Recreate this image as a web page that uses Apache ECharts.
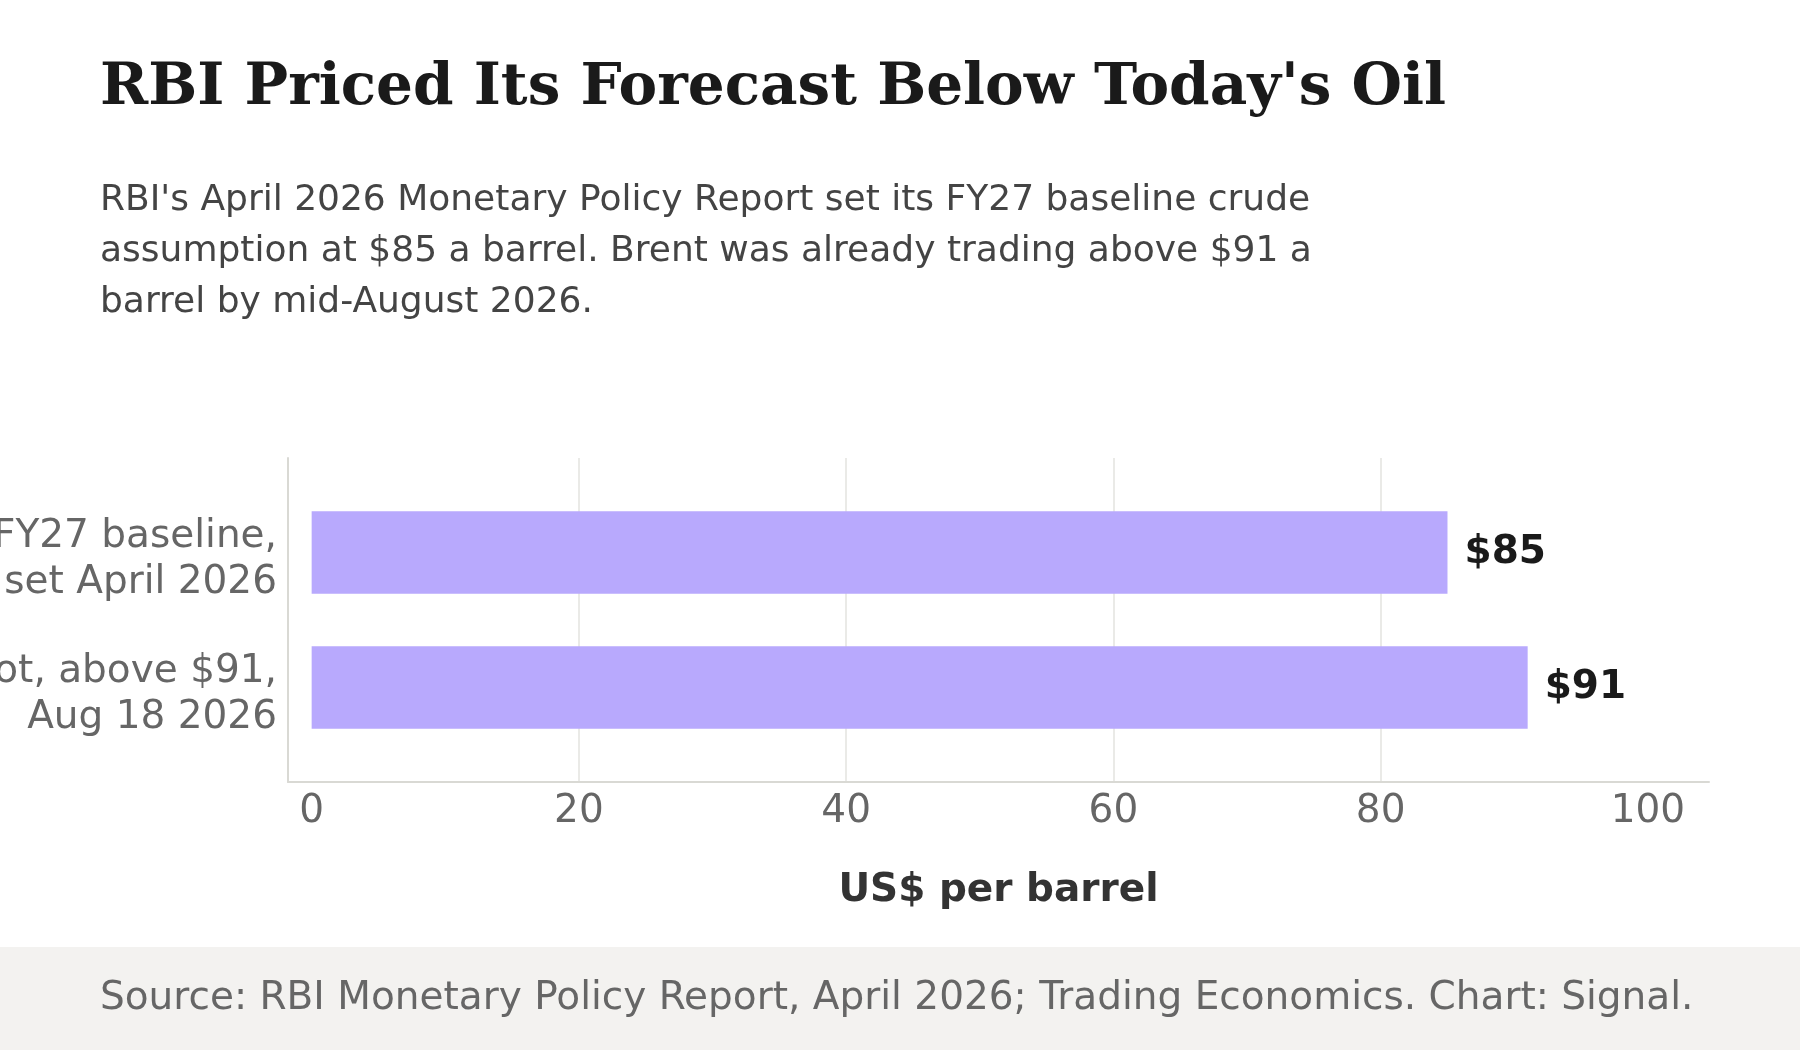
<!DOCTYPE html>
<html><head><meta charset="utf-8">
<script src="https://cdn.jsdelivr.net/npm/echarts@6/dist/echarts.min.js"></script>
<style>html,body{margin:0;padding:0;background:#fff}#chart{width:1800px;height:1050px}</style>
</head><body><div id="chart"></div>
<script>
const titleText = "RBI Priced Its Forecast Below Today's Oil";
const subtitleText = "RBI's April 2026 Monetary Policy Report set its FY27 baseline crude\nassumption at $85 a barrel. Brent was already trading above $91 a\nbarrel by mid-August 2026.";
const sourceText = "Source: RBI Monetary Policy Report, April 2026; Trading Economics. Chart: Signal.";
const categories = ["RBI FY27 baseline,\nset April 2026", "Brent spot, above $91,\nAug 18 2026"];
const values = [85, 91];
const valueLabels = ["$85", "$91"];
const xTicks = [0, 20, 40, 60, 80, 100];
const xAxisName = "US$ per barrel";

const SANS = '"DejaVu Sans", sans-serif';
const SERIF = '"DejaVu Serif", serif';
const BAR_COLOR = '#b8a9fd';
const BAR_HALF = 0.306;
const LABEL_SHIFT = 0.055; // small downward nudge of category label blocks

const chart = echarts.init(document.getElementById('chart'), null, {renderer: 'canvas'});
chart.setOption({
  backgroundColor: '#ffffff',
  animation: false,
  title: [
    {text: titleText, left: 100, top: 55.5, padding: 0,
     textStyle: {fontFamily: SERIF, fontWeight: 'bold', fontSize: 58, color: '#1a1a1a', lineHeight: 66}},
    {text: subtitleText, left: 100, top: 175, padding: 0,
     textStyle: {fontFamily: SANS, fontWeight: 'normal', fontSize: 36, color: '#444444', lineHeight: 51}},
    {text: sourceText, left: 100, top: 973.5, padding: 0,
     textStyle: {fontFamily: SANS, fontWeight: 'normal', fontSize: 39, color: '#666666', lineHeight: 50}}
  ],
  graphic: [
    {type: 'rect', left: 0, top: 947, z: -10, shape: {width: 1800, height: 103}, style: {fill: '#f3f2f0'}, silent: true}
  ],
  grid: {left: 288, right: 91, top: 458, bottom: 268, containLabel: false, outerBoundsMode: 'none'},
  xAxis: {
    type: 'value', min: -1.77, max: 104.57,
    name: xAxisName, nameLocation: 'middle', nameGap: 89.5,
    nameTextStyle: {fontFamily: SANS, fontSize: 39, fontWeight: 'bold', color: '#333333', lineHeight: 39},
    axisLine: {show: true, onZero: false, lineStyle: {color: '#d9d9d4', width: 2}},
    axisTick: {show: false, customValues: xTicks},
    axisLabel: {customValues: xTicks, fontFamily: SANS, fontSize: 39, color: '#666666', margin: 10.5, lineHeight: 39},
    splitLine: {show: true, showMinLine: false, showMaxLine: false, lineStyle: {color: '#e3e3df', width: 1.5}}
  },
  yAxis: {
    type: 'value', inverse: true, min: -0.7, max: 1.7,
    axisLine: {show: true, onZero: false, lineStyle: {color: '#d9d9d4', width: 2}},
    axisTick: {show: false},
    splitLine: {show: false},
    axisLabel: {customValues: categories.map((c, i) => i + LABEL_SHIFT), formatter: v => categories[Math.round(v)],
      fontFamily: SANS, fontSize: 39, lineHeight: 46, color: '#666666', margin: 11, align: 'right'}
  },
  series: [{
    type: 'custom',
    data: values.map((v, i) => [v, i]),
    encode: {x: 0, y: 1},
    renderItem: function (params, api) {
      const v = api.value(0), i = api.value(1);
      const a = api.coord([0, i - BAR_HALF]);
      const b = api.coord([v, i + BAR_HALF]);
      const mid = api.coord([v, i]);
      return {type: 'group', children: [
        {type: 'rect', shape: {x: a[0], y: Math.min(a[1], b[1]), width: b[0] - a[0], height: Math.abs(b[1] - a[1])},
         style: {fill: BAR_COLOR}},
        {type: 'text', x: mid[0] + 17, y: mid[1],
         style: {text: valueLabels[params.dataIndex], fill: '#1a1a1a', fontFamily: SANS, fontWeight: 'bold', fontSize: 39,
                 align: 'left', verticalAlign: 'middle'}}
      ]};
    }
  }]
});
</script></body></html>
